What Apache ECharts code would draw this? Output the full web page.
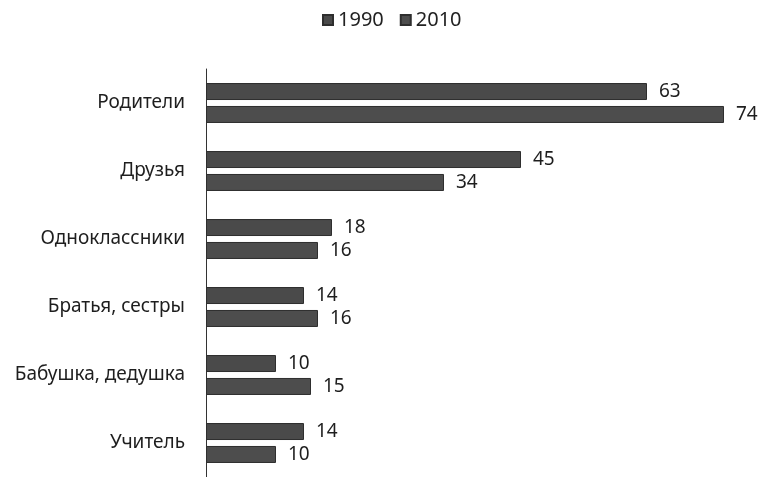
<!DOCTYPE html>
<html>
<head>
<meta charset="utf-8">
<script src="https://cdn.jsdelivr.net/npm/echarts@6/dist/echarts.min.js"></script>
<style>
  html, body { margin: 0; padding: 0; background: #fff; }
  #chart { width: 763px; height: 477px; }
</style>
</head>
<body>
<div id="chart"></div>
<script>
const categories = ['Родители', 'Друзья', 'Одноклассники', 'Братья, сестры', 'Бабушка, дедушка', 'Учитель']
const values1990 = [63, 45, 18, 14, 10, 14]
const values2010 = [74, 34, 16, 16, 15, 10]

const font = 'Noto Sans'

let myChart = echarts.init(document.getElementById('chart'))
let option = {
  animation: false,
  textStyle: { fontFamily: font },
  legend: {
    top: 5,
    left: 317,
    icon: 'rect',
    itemWidth: 10,
    itemHeight: 10,
    itemGap: 16,
    textStyle: { fontSize: 20, color: '#222', fontFamily: font },
    data: ['1990', '2010']
  },
  grid: {
    left: 206,
    right: 39,
    top: 69,
    height: 412,
    containLabel: false
  },
  xAxis: {
    type: 'value',
    min: 0,
    max: 74,
    show: false
  },
  yAxis: {
    type: 'category',
    inverse: true,
    data: categories,
    axisLine: { lineStyle: { color: '#333', width: 1 } },
    axisTick: { show: false },
    axisLabel: { margin: 21, fontSize: 19, color: '#1e1e1e', fontFamily: font }
  },
  series: [
    {
      name: '1990',
      type: 'bar',
      data: values1990,
      barWidth: 17,
      barGap: '35%',
      itemStyle: { color: '#4a4a4a', borderColor: '#2e2e2e', borderWidth: 1 },
      label: { show: true, position: 'right', distance: 12, fontSize: 19, color: '#1e1e1e', fontFamily: font }
    },
    {
      name: '2010',
      type: 'bar',
      data: values2010,
      barWidth: 17,
      itemStyle: { color: '#4d4d4d', borderColor: '#2e2e2e', borderWidth: 1 },
      label: { show: true, position: 'right', distance: 12, fontSize: 19, color: '#1e1e1e', fontFamily: font }
    }
  ]
}
myChart.setOption(option)
</script>
</body>
</html>
